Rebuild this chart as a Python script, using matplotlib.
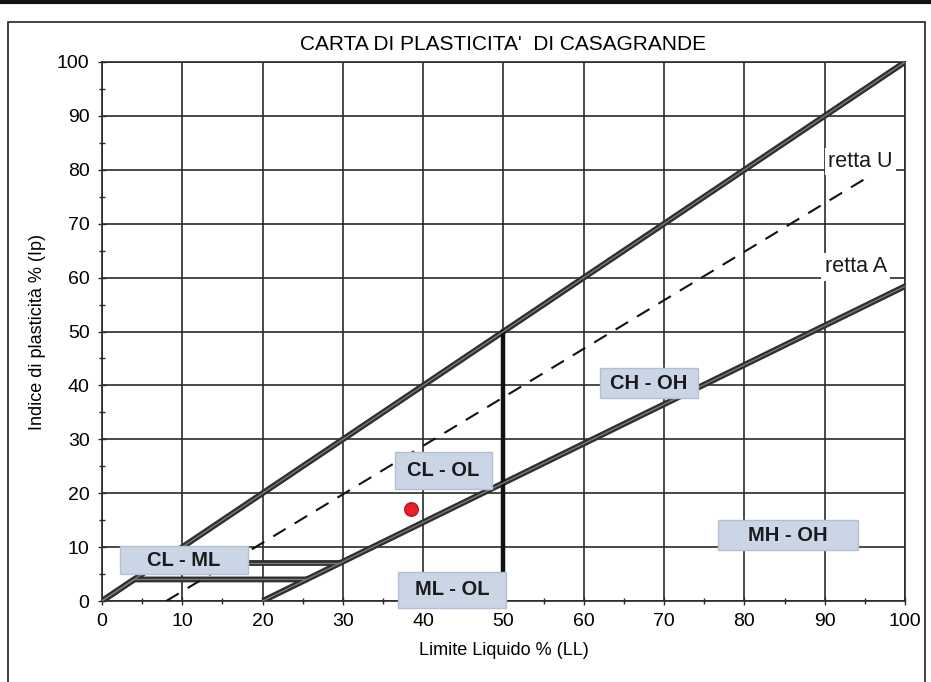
import matplotlib
matplotlib.use("Agg")
import matplotlib.pyplot as plt
from matplotlib.patches import Rectangle
import numpy as np

# ---- data ----
line_ll_upper = [0, 100]          # limit line LL = Ip
line_ip_upper = [0, 100]
retta_u_ll = [8, 95]
retta_u_ip = [0, 0.9 * (95 - 8)]
retta_a_ll = [20, 100]
retta_a_ip = [0, 58.4]
vert_ll = [50, 50]
vert_ip = [1, 50]
clml_low_ll = [0, 4, 25.5]
clml_low_ip = [0, 4, 4]
clml_high_ll = [18, 29.6]
clml_high_ip = [7, 7]
sample_ll = [38.5]
sample_ip = [17.0]

zone_labels = ["CL - ML", "CL - OL", "ML - OL", "CH - OH", "MH - OH"]
zone_x = [10.2, 42.5, 43.6, 68.1, 85.4]
zone_y = [7.6, 24.2, 2.1, 40.4, 12.2]
zone_w = [16.0, 12.1, 13.4, 12.2, 17.4]
zone_h = [5.2, 6.8, 6.7, 5.5, 5.5]

line_labels = ["retta U", "retta A"]
line_label_x = [90.4, 90.0]
line_label_y = [81.5, 62.0]

xticks = list(range(0, 101, 10))
yticks = list(range(0, 101, 10))

title = "CARTA DI PLASTICITA'  DI CASAGRANDE"
xlabel = "Limite Liquido % (LL)"
ylabel = "Indice di plasticità % (Ip)"

# ---- figure ----
plt.rcParams['font.family'] = ['Liberation Sans', 'DejaVu Sans']
fig = plt.figure(figsize=(9.31, 6.82), dpi=100)
fig.patch.set_facecolor('white')
# scanned frame
fig.add_artist(Rectangle((8/931, -0.05), (925-8)/931, 1.05 - 22/682, transform=fig.transFigure,
                         fill=False, edgecolor='#222222', lw=1.2))
fig.add_artist(plt.Line2D([0, 1], [1 - 2/682, 1 - 2/682], transform=fig.transFigure,
                          color='#111111', lw=3))

ax = fig.add_axes([102/931, 1 - 601/682, (905-102)/931, (601-62)/682])
ax.set_xlim(0, 100)
ax.set_ylim(0, 100)
ax.set_xticks(xticks)
ax.set_yticks(yticks)
ax.set_xticks(np.arange(5, 100, 10), minor=True)
ax.set_yticks(np.arange(5, 100, 10), minor=True)
ax.grid(True, which='major', color='#2a2a2a', lw=1.2)
ax.set_axisbelow(True)
for s in ax.spines.values():
    s.set_color('#2a2a2a')
    s.set_linewidth(1.2)
ax.tick_params(which='both', direction='inout', length=6, width=1, color='#2a2a2a',
               labelsize=14, pad=6)
ax.tick_params(which='minor', length=5)

ax.set_title(title, fontsize=15, pad=9)
ax.set_xlabel(xlabel, fontsize=13, labelpad=8)
ax.set_ylabel(ylabel, fontsize=13, labelpad=8)


def thick(x, y):
    ax.plot(x, y, color='#2e2e2e', lw=4.2, solid_capstyle='butt', zorder=3)
    ax.plot(x, y, color='#7a7a7a', lw=1.0, solid_capstyle='butt', zorder=3.1)


thick(line_ll_upper, line_ip_upper)
thick(retta_a_ll, retta_a_ip)
thick(clml_low_ll, clml_low_ip)
thick(clml_high_ll, clml_high_ip)
ax.plot(retta_u_ll, retta_u_ip, color='#111111', lw=1.5, dashes=(7, 5), zorder=3)
ax.plot(vert_ll, vert_ip, color='#111111', lw=3.2, zorder=3)

ax.scatter(sample_ll, sample_ip, s=95, color='#e8202a', edgecolor='#c01018', zorder=6)

for lab, x, y, w, h in zip(zone_labels, zone_x, zone_y, zone_w, zone_h):
    ax.add_patch(Rectangle((x - w / 2, y - h / 2), w, h, facecolor='#cad5e6',
                           edgecolor='#b4c0d2', lw=1, zorder=5, clip_on=False))
    ax.text(x, y, lab, ha='center', va='center', fontsize=14.5, fontweight='bold',
            color='#1a1a1a', zorder=5.5)

for lab, x, y in zip(line_labels, line_label_x, line_label_y):
    ax.text(x, y, lab, ha='left', va='center', fontsize=15.5, color='#1a1a1a', zorder=5,
            bbox=dict(boxstyle='square,pad=0.15', facecolor='white', edgecolor='none'))

fig.savefig('out.png', dpi=100)
